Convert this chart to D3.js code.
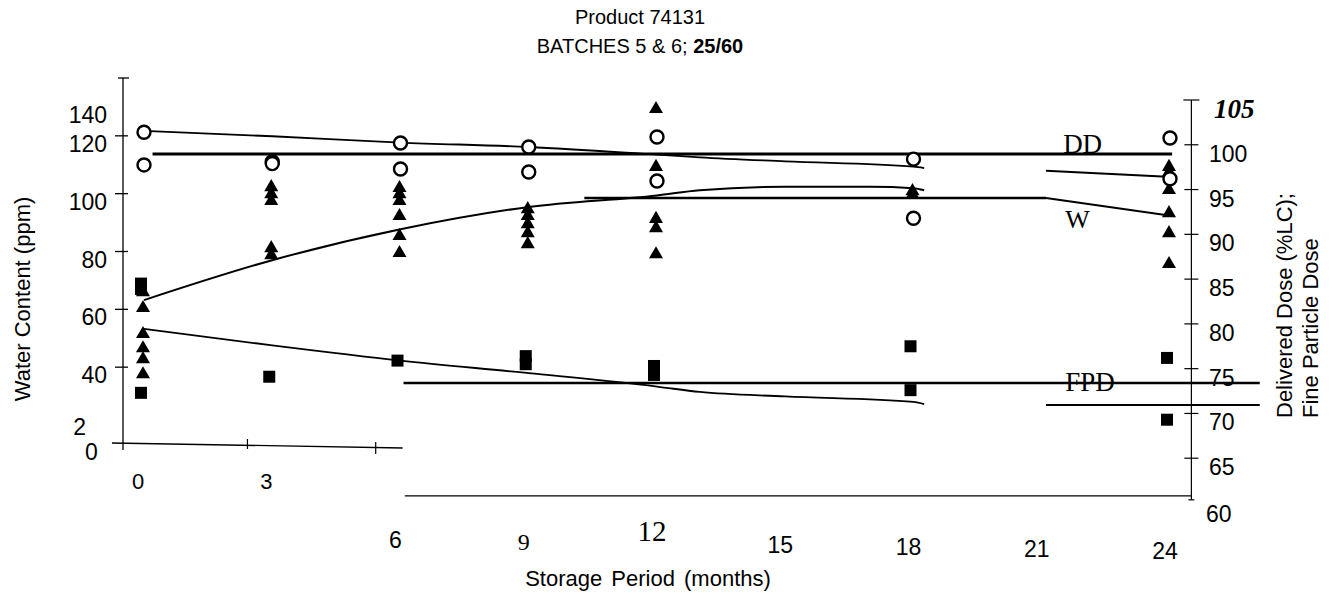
<!DOCTYPE html>
<html>
<head>
<meta charset="utf-8">
<script src="https://cdn.jsdelivr.net/npm/d3@7/dist/d3.min.js"></script>
<style>
  html, body { margin: 0; padding: 0; background: #fff; }
  svg { display: block; }
  text { font-family: "Liberation Sans", Arial, sans-serif; fill: #000; }
  .serif { font-family: "Liberation Serif", "Times New Roman", serif; }
</style>
</head>
<body>
<svg id="chart" width="1337" height="595"></svg>
<script>
// ---------------- DATA ----------------
const months = [0, 3, 6, 9, 12, 18, 24];

// Delivered Dose (%LC) – open circles, right axis
const ddMonths = [0, 0, 3, 3, 6, 6, 9, 9, 12, 12, 18, 18, 24, 24];
const ddValues = [101.4, 97.75, 98.1, 97.9, 100.2, 97.3, 99.75, 96.96, 100.87, 95.96, 98.4, 91.8, 100.76, 96.2];

// Water content (ppm) – filled triangles, left axis
const wMonths = [0, 0, 0, 0, 0, 0,
                 3, 3, 3, 3, 3,
                 6, 6, 6, 6, 6, 6,
                 9, 9, 9, 9, 9,
                 12, 12, 12, 12, 12,
                 18, 18,
                 24, 24, 24, 24, 24, 24];
const wValues = [66.3, 60.8, 51.8, 46.9, 43.1, 37.9,
                 102.6, 100.2, 97.8, 81.5, 79.1,
                 102.3, 100.2, 97.8, 92.6, 85.7, 79.8,
                 95.0, 92.6, 89.8, 86.7, 82.9,
                 129.6, 109.6, 91.6, 88.4, 79.4,
                 101.2, 99.9,
                 109.6, 107.8, 101.6, 93.6, 86.7, 76.0];

// Fine Particle Dose – filled squares, right axis
const fpdMonths = [0, 0, 0, 3, 6, 9, 9, 12, 12, 18, 18, 24, 24];
const fpdValues = [84.5, 83.9, 72.3, 74.1, 75.9, 76.4, 75.5, 75.3, 74.3, 77.5, 72.6, 76.2, 69.3];

// Fitted curves
const ddFitMonths = [0, 3, 6, 9, 12, 13, 15, 18, 18.25];
const ddFitValues = [101.55, 100.95, 100.25, 99.75, 98.9, 98.6, 98.15, 97.55, 97.4];
const ddFit2Months = [21.1, 24.05];
const ddFit2Values = [97.1, 96.4];

const wFitMonths = [0, 3, 6, 9, 12, 13, 15, 17, 18, 18.25];
const wFitValues = [63.2, 77.0, 87.7, 95.4, 99.4, 101.2, 102.4, 102.4, 101.9, 101.2];
const wFit2Months = [21.1, 24.1];
const wFit2Values = [98.5, 92.2];

const fpdFitMonths = [0, 3, 6, 9, 12, 13, 15, 18, 18.25];
const fpdFitValues = [79.45, 77.6, 75.9, 74.5, 73.0, 72.4, 71.9, 71.3, 71.05];
const fpdFit2Months = [21.1, 26.1];
const fpdFit2Values = [70.95, 70.95];

// Specification lines [startMonth, endMonth, value]
const ddSpec = [0.2, 24.05, 98.97];
const wSpec = [10.3, 21.1, 98.5];
const fpdSpec = [6.07, 26.1, 73.4];

// Axis ticks / labels
const leftTicks = [120, 100, 80, 60, 40];
const leftTickLabels = ["140", "120", "100", "80", "60", "40"];
const leftLabelValues = [130, 120, 100, 80, 60, 40];
const rightTicks = [100, 95, 90, 85, 80, 75, 70, 65];
const rightTickLabels = ["100", "95", "90", "85", "80", "75", "70", "65"];
const topMonthLabels = [0, 3];
const bottomMonthLabels = [6, 9, 12, 15, 18, 21, 24];

const titleLine1 = "Product 74131";
const titleLine2a = "BATCHES 5 & 6; ";
const titleLine2b = "25/60";
const xTitle = "Storage Period (months)";
const yLeftTitle = "Water Content (ppm)";
const yRightTitle1 = "Delivered Dose (%LC);";
const yRightTitle2 = "Fine Particle Dose";

// ---------------- SCALES ----------------
const svg = d3.select("#chart");
const x = d3.scaleLinear().domain([0, 24]).range([144, 1170]);
const yL = d3.scaleLinear().domain([20, 140]).range([425, 78]);
const yR = d3.scaleLinear().domain([60, 105]).range([503, 100]);
const bottomY = yR(60.8);

const g = svg.append("g");

// ---------------- TITLES ----------------
svg.append("text").attr("x", 640).attr("y", 24).attr("text-anchor", "middle")
  .style("font-size", "20px").text(titleLine1);
const t2 = svg.append("text").attr("x", 640).attr("y", 53).attr("text-anchor", "middle")
  .style("font-size", "20px");
t2.append("tspan").text(titleLine2a);
t2.append("tspan").style("font-weight", "bold").text(titleLine2b);

// ---------------- LEFT AXIS ----------------
const axX = 123;
g.append("line").attr("x1", axX).attr("x2", axX).attr("y1", yL(140)).attr("y2", 450)
  .attr("stroke", "#000").attr("stroke-width", 1.3);
g.append("line").attr("x1", axX - 5).attr("x2", axX + 6).attr("y1", yL(140)).attr("y2", yL(140))
  .attr("stroke", "#000").attr("stroke-width", 1.3);
g.selectAll(".lt").data(leftTicks).enter().append("line")
  .attr("x1", axX - 8).attr("x2", axX + 5)
  .attr("y1", d => yL(d)).attr("y2", d => yL(d))
  .attr("stroke", "#000").attr("stroke-width", 1.3);
g.selectAll(".ll").data(leftTickLabels).enter().append("text")
  .attr("x", 107).attr("y", (d, i) => yL(leftLabelValues[i]) + 8)
  .attr("text-anchor", "end").attr("dominant-baseline", "central")
  .style("font-size", "23px").text(d => d);
g.append("text").attr("x", 86).attr("y", yL(20) + 2).attr("text-anchor", "end")
  .attr("dominant-baseline", "central").style("font-size", "23px").text("2");
g.append("text").attr("x", 85).attr("y", yL(20) + 27).attr("text-anchor", "start")
  .attr("dominant-baseline", "central").style("font-size", "23px").text("0");

// left x-axis segment
g.append("line").attr("x1", x(-0.75)).attr("x2", x(6.05)).attr("y1", 443).attr("y2", 448)
  .attr("stroke", "#000").attr("stroke-width", 1.3);
[2.42, 5.42].forEach((m, i) => {
  g.append("line").attr("x1", x(m)).attr("x2", x(m)).attr("y1", 439 + i * 3).attr("y2", 449 + i * 5)
    .attr("stroke", "#000").attr("stroke-width", 1.2);
});
g.selectAll(".tm").data(topMonthLabels).enter().append("text")
  .attr("x", d => x(d) - 6).attr("y", 481).attr("text-anchor", "middle")
  .attr("dominant-baseline", "central").style("font-size", "22px").text(d => d);

// ---------------- RIGHT AXIS ----------------
const raX = x(24.5);
g.append("line").attr("x1", raX).attr("x2", raX).attr("y1", yR(105)).attr("y2", bottomY + 4)
  .attr("stroke", "#000").attr("stroke-width", 1.2);
g.append("line").attr("x1", raX - 8).attr("x2", raX + 8).attr("y1", yR(105)).attr("y2", yR(105))
  .attr("stroke", "#000").attr("stroke-width", 1.2);
g.append("line").attr("x1", raX - 3).attr("x2", raX + 3).attr("y1", bottomY + 4).attr("y2", bottomY + 4)
  .attr("stroke", "#000").attr("stroke-width", 1.2);
g.selectAll(".rt").data(rightTicks).enter().append("line")
  .attr("x1", raX - 7).attr("x2", raX + 7)
  .attr("y1", d => yR(d)).attr("y2", d => yR(d))
  .attr("stroke", "#000").attr("stroke-width", 1.2);
g.selectAll(".rl").data(rightTickLabels).enter().append("text")
  .attr("x", 1209).attr("y", (d, i) => yR(rightTicks[i]) + 9)
  .attr("dominant-baseline", "central").style("font-size", "23px").text(d => d);
g.append("text").attr("class", "serif").attr("x", 1214).attr("y", yR(105) + 9)
  .attr("dominant-baseline", "central").style("font-size", "27px")
  .style("font-weight", "bold").style("font-style", "italic").text("105");
g.append("text").attr("x", 1206).attr("y", bottomY + 18)
  .attr("dominant-baseline", "central").style("font-size", "23px").text("60");

// bottom x-axis line
g.append("line").attr("x1", x(6.1)).attr("x2", raX).attr("y1", bottomY).attr("y2", bottomY)
  .attr("stroke", "#000").attr("stroke-width", 1.4);
g.selectAll(".bm").data(bottomMonthLabels).enter().append("text")
  .attr("class", d => (d === 9 || d === 12) ? "serif" : null)
  .attr("x", d => x(d) - 5)
  .attr("y", d => d === 12 ? 541 : 548 + (d - 6) * 0.6)
  .attr("text-anchor", "middle")
  .style("font-size", d => d === 12 ? "29px" : (d === 9 ? "24px" : "23px"))
  .text(d => d);

// axis titles
svg.append("text").attr("x", 648).attr("y", 586).attr("text-anchor", "middle")
  .style("font-size", "22px").style("word-spacing", "3px").text(xTitle);
svg.append("text").attr("transform", "translate(30,299) rotate(-90)")
  .attr("text-anchor", "middle").style("font-size", "22px").text(yLeftTitle);
svg.append("text").attr("transform", "translate(1292,418) rotate(-90)")
  .attr("text-anchor", "start").style("font-size", "22px").text(yRightTitle1);
svg.append("text").attr("transform", "translate(1318,418) rotate(-90)")
  .attr("text-anchor", "start").style("font-size", "22px").text(yRightTitle2);

// ---------------- SPEC LINES ----------------
function spec(s, yScale, w) {
  g.append("line").attr("x1", x(s[0])).attr("x2", x(s[1]))
    .attr("y1", yScale(s[2])).attr("y2", yScale(s[2]))
    .attr("stroke", "#000").attr("stroke-width", w);
}
spec(ddSpec, yR, 3.2);
spec(wSpec, yL, 2.4);

// ---------------- FIT CURVES ----------------
function curve(ms, vs, yScale, w) {
  const pts = ms.map((m, i) => [m, vs[i]]);
  const line = d3.line().x(d => x(d[0])).y(d => yScale(d[1])).curve(d3.curveMonotoneX);
  g.append("path").attr("d", line(pts)).attr("fill", "none")
    .attr("stroke", "#000").attr("stroke-width", w);
}
curve(ddFitMonths, ddFitValues, yR, 1.8);
curve(ddFit2Months, ddFit2Values, yR, 2);
curve(wFitMonths, wFitValues, yL, 2);
curve(wFit2Months, wFit2Values, yL, 2);
curve(fpdFitMonths, fpdFitValues, yR, 1.8);
curve(fpdFit2Months, fpdFit2Values, yR, 2);

// series labels
g.append("text").attr("class", "serif").attr("x", x(21.5)).attr("y", yR(98.97) - 1)
  .style("font-size", "27px").text("DD");
g.append("text").attr("class", "serif").attr("x", x(21.55)).attr("y", yL(98.5) + 30)
  .style("font-size", "26px").text("W");
g.append("text").attr("class", "serif").attr("x", x(21.55)).attr("y", yR(73.4) + 8)
  .style("font-size", "27px").text("FPD");
// FPD spec line drawn over its label (strike-through look)
spec(fpdSpec, yR, 2.4);

// ---------------- MARKERS ----------------
// squares
g.selectAll(".sq").data(fpdMonths).enter().append("rect")
  .attr("x", d => x(d) - 9).attr("y", (d, i) => yR(fpdValues[i]) - 6)
  .attr("width", 12).attr("height", 12).attr("fill", "#000");
// triangles
const tri = d3.symbol().type(d3.symbolTriangle).size(85);
g.selectAll(".tr").data(wMonths).enter().append("path")
  .attr("d", tri)
  .attr("transform", (d, i) => `translate(${x(d) - 1},${yL(wValues[i]) + 1})`)
  .attr("fill", "#000");
// circles
g.selectAll(".ci").data(ddMonths).enter().append("circle")
  .attr("cx", d => x(d)).attr("cy", (d, i) => yR(ddValues[i]))
  .attr("r", 6.5).attr("fill", "#fff").attr("stroke", "#000").attr("stroke-width", 2.4);
</script>
</body>
</html>
